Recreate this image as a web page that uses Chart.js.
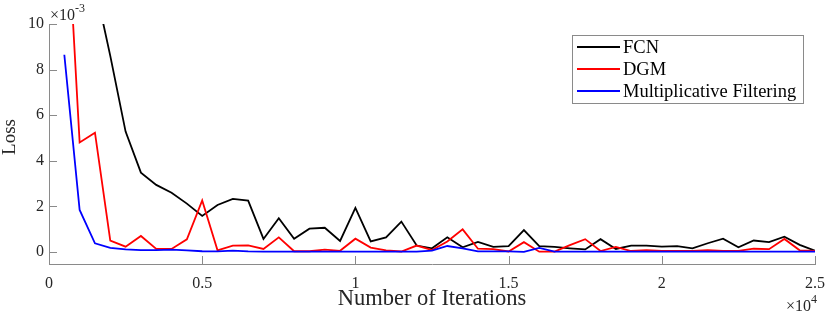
<!DOCTYPE html>
<html>
<head>
<meta charset="utf-8">
<script src="https://cdn.jsdelivr.net/npm/chart.js"></script>
<style>
  html,body{margin:0;padding:0;background:#fff;}
  #wrap{width:830px;height:315px;position:relative;}
</style>
</head>
<body>
<div id="wrap"><canvas id="chart" width="830" height="315"></canvas></div>
<script>

// =====================
// DATA
// =====================

const iterations = [
  500,1000,1500,2000,2500,3000,3500,4000,4500,5000,
  5500,6000,6500,7000,7500,8000,8500,9000,9500,10000,
  10500,11000,11500,12000,12500,13000,13500,14000,14500,15000,
  15500,16000,16500,17000,17500,18000,18500,19000,19500,20000,
  20500,21000,21500,22000,22500,23000,23500,24000,24500,25000
];

// loss values, in units of 1e-3
const fcnLoss = [
  25,16,11.7,8.6,5.28,3.48,2.94,2.6,2.12,1.58,
  2.06,2.33,2.25,0.57,1.48,0.58,1.02,1.06,0.48,1.93,
  0.46,0.64,1.33,0.28,0.16,0.64,0.2,0.44,0.22,0.25,
  0.96,0.25,0.22,0.16,0.11,0.56,0.13,0.28,0.28,0.23,
  0.25,0.16,0.38,0.58,0.2,0.5,0.43,0.67,0.31,0.05
];

const dgmLoss = [
  17,4.8,5.23,0.5,0.23,0.7,0.13,0.13,0.55,2.26,
  0.07,0.28,0.29,0.13,0.64,0.03,0.03,0.1,0.05,0.58,
  0.19,0.07,0.02,0.28,0.08,0.46,0.99,0.14,0.12,0.02,
  0.43,0.01,0.01,0.3,0.56,0.04,0.22,0.04,0.08,0.04,
  0.04,0.04,0.08,0.04,0.05,0.14,0.12,0.57,0.07,0.04
];

const mfLoss = [
  8.65,1.84,0.38,0.18,0.11,0.08,0.08,0.1,0.07,0.03,
  0.02,0.06,0.02,0.01,0.01,0.01,0.01,0.01,0.01,0.01,
  0.01,0.01,0.01,0.01,0.06,0.26,0.16,0.02,0.02,0.02,
  0,0.18,0.01,0.01,0.01,0.01,0.01,0.01,0.01,0.01,
  0.01,0.01,0.01,0.01,0.01,0.01,0.01,0.01,0.01,0.01
];

const seriesNames = ["FCN","DGM","Multiplicative Filtering"];
const seriesColors = ["#000000","#ff0000","#0000ff"];

const xTicks = [0,5000,10000,15000,20000,25000];
const yTicks = [0,2,4,6,8,10];

const FONT = "'Liberation Serif', 'DejaVu Serif', serif";
const AXIS_COLOR = "#8a8a8a";
const TEXT_COLOR = "#262626";


// =====================
// HELPERS
// =====================

function points(vals){
  return iterations.map((it,i)=>({x:it,y:vals[i]}));
}


// =====================
// PLUGIN: ticks, labels, legend
// =====================

const extras = {
  id:"extras",
  afterDraw(chart){
    const ctx = chart.ctx;
    const xs = chart.scales.x, ys = chart.scales.y;
    const a = chart.chartArea;

    ctx.save();
    ctx.strokeStyle = AXIS_COLOR;
    ctx.lineWidth = 1;

    // inward ticks
    xTicks.forEach(v=>{
      const px = Math.round(xs.getPixelForValue(v))+0.5;
      ctx.beginPath();
      ctx.moveTo(px,a.bottom);
      ctx.lineTo(px,a.bottom-8);
      ctx.stroke();
    });
    yTicks.forEach(v=>{
      const py = Math.round(ys.getPixelForValue(v))+0.5;
      ctx.beginPath();
      ctx.moveTo(a.left,py);
      ctx.lineTo(a.left+8,py);
      ctx.stroke();
    });

    // y label
    ctx.fillStyle = TEXT_COLOR;
    ctx.font = "19px " + FONT;
    ctx.textAlign = "center";
    ctx.textBaseline = "middle";
    ctx.save();
    ctx.translate(10,137);
    ctx.rotate(-Math.PI/2);
    ctx.fillText("Loss",0,0);
    ctx.restore();

    // multipliers
    ctx.textBaseline = "alphabetic";
    ctx.textAlign = "left";
    ctx.font = "16px " + FONT;
    ctx.fillText("\u00d710", 50, 20);
    let w = ctx.measureText("\u00d710").width;
    ctx.font = "12px " + FONT;
    ctx.fillText("-3", 50+w, 12);

    ctx.font = "16px " + FONT;
    ctx.fillText("\u00d710", 786, 311);
    w = ctx.measureText("\u00d710").width;
    ctx.font = "12px " + FONT;
    ctx.fillText("4", 786+w, 303);

    // legend
    const lx = 572, ly = 35, lw = 231, lh = 68;
    ctx.fillStyle = "#fff";
    ctx.fillRect(lx,ly,lw,lh);
    ctx.strokeStyle = AXIS_COLOR;
    ctx.strokeRect(lx+0.5,ly+0.5,lw,lh);
    ctx.font = "18.5px " + FONT;
    ctx.textBaseline = "middle";
    seriesNames.forEach((name,i)=>{
      const y = 47 + i*22;
      ctx.strokeStyle = seriesColors[i];
      ctx.lineWidth = 1.8;
      ctx.beginPath();
      ctx.moveTo(577,y);
      ctx.lineTo(620,y);
      ctx.stroke();
      ctx.fillStyle = "#000";
      ctx.fillText(name, 623, y+1);
    });

    ctx.restore();
  }
};


// =====================
// CHART
// =====================

const lossSets = [fcnLoss, dgmLoss, mfLoss];

new Chart(document.getElementById("chart"), {
  type:"line",
  data:{
    datasets: lossSets.map((vals,i)=>({
      label: seriesNames[i],
      data: points(vals),
      borderColor: seriesColors[i],
      backgroundColor: seriesColors[i],
      borderWidth: 1.8,
      pointRadius: 0,
      tension: 0,
      fill: false,
      order: 2-i
    }))
  },
  options:{
    responsive:false,
    animation:false,
    layout:{padding:{top:24,right:15,left:0,bottom:0}},
    plugins:{
      legend:{display:false},
      tooltip:{enabled:false}
    },
    scales:{
      x:{
        type:"linear",
        min:0,
        max:25000,
        afterFit(s){ s.height = 51; s.paddingLeft = 0; s.paddingRight = 0; },
        afterBuildTicks(s){ s.ticks = xTicks.map(v=>({value:v})); },
        grid:{drawOnChartArea:false, drawTicks:false},
        border:{display:true, color:AXIS_COLOR, width:1},
        ticks:{
          padding:10,
          color:TEXT_COLOR,
          font:{family:FONT, size:16},
          maxRotation:0,
          callback:(v)=> String(v/10000)
        },
        title:{
          display:true,
          text:"Number of Iterations",
          color:TEXT_COLOR,
          font:{family:FONT, size:22.5},
          padding:{top:0,bottom:2}
        }
      },
      y:{
        type:"linear",
        min:-0.53,
        max:10,
        afterFit(s){ s.width = 49; },
        afterBuildTicks(s){ s.ticks = yTicks.map(v=>({value:v})); },
        grid:{drawOnChartArea:false, drawTicks:false},
        border:{display:true, color:AXIS_COLOR, width:1},
        ticks:{
          padding:5,
          color:TEXT_COLOR,
          font:{family:FONT, size:16},
          callback:(v)=> String(v)
        },
        title:{display:false}
      }
    }
  },
  plugins:[extras]
});

</script>
</body>
</html>
